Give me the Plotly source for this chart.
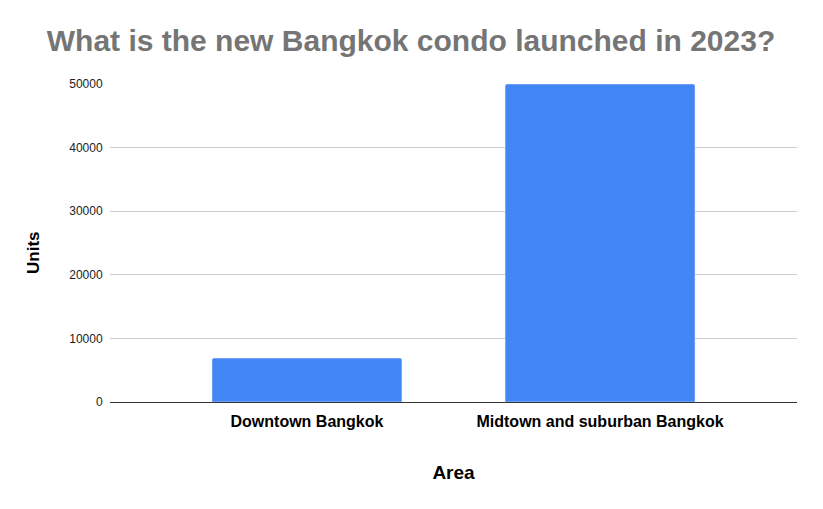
import plotly.graph_objects as go

# data
areas = ["Downtown Bangkok", "Midtown and suburban Bangkok"]
units = [6900, 50000]

FONT = "Liberation Sans, Arial, sans-serif"

fig = go.Figure(
    go.Bar(
        x=areas,
        y=units,
        marker=dict(color="#4285F4", cornerradius=2),
        width=0.648,
    )
)

# the page has an 8px body margin, so margins are trimmed by 8 on left/top
fig.update_layout(
    width=823,
    height=509,
    paper_bgcolor="white",
    plot_bgcolor="white",
    margin=dict(l=102, r=34, t=76, b=115, autoexpand=False),
    font=dict(family=FONT, color="#222222"),
    showlegend=False,
    title=dict(
        text="<b>What is the new Bangkok condo launched in 2023?</b>",
        font=dict(family=FONT, size=30, color="#757575"),
        x=(411 - 8) / 823, xanchor="center",
        y=1 - 32 / 509, yanchor="middle",
    ),
)

fig.update_xaxes(
    type="category",
    range=[-0.672, 1.672],
    showline=True, linecolor="#333333", linewidth=1,
    showgrid=False,
    tickfont=dict(family=FONT, size=16, color="#000000"),
    tickprefix="<b>", ticksuffix="</b>",
    ticks="outside", ticklen=5, tickcolor="white",
    title=dict(text="<b>Area</b>", font=dict(family=FONT, size=19, color="#000000"), standoff=36),
)

fig.update_yaxes(
    range=[0, 50000],
    dtick=10000,
    tickformat="d",
    showgrid=True, gridcolor="#cccccc", gridwidth=1,
    zeroline=False,
    tickfont=dict(family=FONT, size=12, color="#222222"),
    ticks="outside", ticklen=4, tickcolor="white",
)

# y title sits a bit below the plot's middle in the reference
fig.add_annotation(
    text="<b>Units</b>",
    textangle=-90,
    xref="paper", yref="paper",
    x=(25 - 102) / 687, y=(394 - 245) / 318,
    xanchor="center", yanchor="middle",
    showarrow=False,
    font=dict(family=FONT, size=17, color="#000000"),
)

fig.write_html("out.html")
